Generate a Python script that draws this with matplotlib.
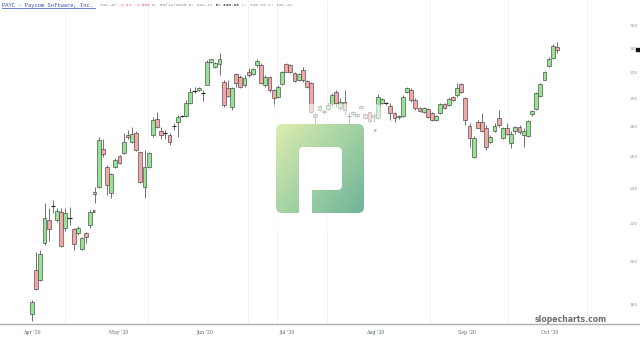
import numpy as np
import matplotlib.pyplot as plt
from matplotlib.patches import FancyBboxPatch, Rectangle
from matplotlib.colors import LinearSegmentedColormap
from matplotlib.ticker import NullLocator

# daily candles, PAYC, Apr 1 - Oct 5 2020
opens = [176, 196, 191.5, 210, 222, 230, 222, 226.5, 218, 223, 217, 215, 206.5, 215, 219.5,
         236.8, 241, 265, 253.5, 237.7, 253.5, 260.5, 262.5, 274.6, 269.7, 276, 263, 241, 253.5, 274.6,
         285.6, 277, 276, 274.6, 280.7, 283.6, 287.4, 287.6, 297.2, 306.3, 307, 304.8, 311, 329, 325,
         327.5, 313.2, 308.5, 294.4, 319.6, 317, 311, 321, 319.6, 326.7, 326.7, 311, 317, 307, 301.7,
         311.7, 327.5, 326.7, 320.4, 314.7, 322.7, 314, 312.4, 289.2, 292, 291.5, 292.7, 296.5, 305.5, 293.5,
         298, 287.6, 289, 289.2, 293.5, 289.2, 290.6, 287, 286.3, 297.2, 297.2, 295, 290, 287.3, 287.6,
         305.5, 307, 299.5, 293.5, 290.6, 292.7, 290, 284.8, 290, 296.5, 295.8, 301.7, 303, 311.7, 301,
         280.7, 260, 283.6, 283.6, 279.3, 269.7, 277, 286.3, 272.3, 279.3, 269, 277, 280, 274.6, 273.7,
         289.2, 292.7, 302.4, 315, 325.8, 332.4, 341.6]
highs = [182, 205, 206, 232, 229, 233.5, 229, 229, 229, 229.5, 218, 219, 213, 215.5, 227.5,
         241, 273, 272, 255, 250, 259, 261, 276, 278, 280, 277, 263, 264.5, 263, 287,
         290.6, 280, 278, 276, 282.6, 288.5, 288.5, 299.5, 308.5, 309.3, 309, 307, 330.6, 332, 329,
         336.6, 314.5, 315, 309.3, 320.4, 318.7, 318.7, 324.4, 324.4, 331.5, 328.3, 318.7, 317.8, 307.7, 311,
         321.8, 328.3, 327.5, 321, 320.4, 325, 314.7, 313, 290, 295.8, 293, 297, 304.8, 307, 301,
         307, 290.6, 291.5, 290, 295.8, 290, 291.3, 290, 304, 301, 298, 297.2, 290.6, 288.5, 303,
         309.3, 308.5, 301, 294, 294.4, 293.5, 290.6, 288.5, 297.2, 297.2, 301.7, 302.4, 312.4, 312.4, 301.7,
         282.6, 274, 284.8, 290, 281.4, 274.6, 282.6, 292, 280, 282.6, 277, 280.7, 281.4, 279.3, 284.8,
         292, 305.5, 312.4, 321.8, 333, 344.1, 345.8]
lows = [173, 186.5, 191, 209, 211, 226, 221, 207.5, 216, 219.5, 206, 214, 206, 210, 218,
        232, 240.5, 260, 236.5, 234.7, 253, 255.5, 262, 272, 269, 263.5, 243.5, 234.7, 253, 273,
        279.5, 272, 272, 268, 278, 273, 287, 287, 296.5, 304.8, 306.5, 298.8, 310.5, 328.5, 324,
        318.7, 294.4, 301.6, 292, 309.3, 308.5, 309.3, 317, 318.7, 325, 311.7, 309.3, 305.5, 294.4, 301,
        311, 321, 320.5, 313, 314, 313.2, 308.5, 290, 277, 291.5, 289, 292, 294.4, 294.4, 292,
        288.5, 281.4, 288, 287, 292.7, 286, 283.6, 283.6, 285.6, 296.5, 296, 284.8, 283.6, 286, 287,
        304.8, 298, 292, 291, 290, 286.3, 284, 284, 289.2, 293, 295, 299, 301.7, 304.8, 281.4,
        266.4, 259.5, 279, 276.3, 264.5, 269, 276.3, 280, 272, 274.6, 265.8, 275, 275, 266.4, 273,
        287.6, 292, 301.7, 314.7, 325, 331.5, 336.6]
closes = [181, 187, 204, 223, 217, 230.5, 227, 208, 226, 223.3, 209.5, 218, 212.5, 213, 226.5,
          238, 271, 262, 242.4, 249, 258, 256, 269.7, 273, 275, 264.5, 244, 253.5, 262.5, 284.8,
          280, 274.6, 275.6, 269.7, 280.9, 287, 287.8, 297.2, 305.5, 306.5, 308.5, 305, 329, 331.5, 328.3,
          331.5, 295.8, 302.4, 308.5, 312.4, 309.3, 316.3, 318.7, 323.5, 330, 312.4, 317, 307, 301, 309.3,
          321, 321, 321, 314, 319.6, 314.7, 309.3, 290.6, 287, 295, 290.6, 295.8, 303, 297.2, 298,
          292, 287.3, 290.6, 287.5, 295, 286.5, 284.3, 288.5, 301.7, 300, 297.4, 290, 286.3, 288, 301.7,
          308.5, 299.5, 293.5, 291.5, 293.5, 287, 284.8, 287.6, 296.5, 293.5, 300.2, 299.5, 308.5, 305.5, 284.8,
          272.3, 272.3, 279.3, 277, 266.4, 273, 280.7, 281.4, 279.3, 275, 275, 280, 276.3, 277, 284.3,
          291.3, 304.8, 311.7, 321, 331.5, 342.4, 339.43]

month_labels = ["Apr '20", "May '20", "Jun '20", "Jul '20", "Aug '20", "Sep '20", "Oct '20"]
month_idx = [0, 20.7, 41.5, 61.2, 82.3, 104.3, 124.3]
price_levels = [180, 200, 220, 240, 260, 280, 300, 320, 340, 360]
grid_idx = [7.9, 27.8, 51.8, 58.8, 70.8, 95.5, 114.2, 133.2]
earnings = [(14.9, 226.6, '#111111'), (82.3, 277, '#111111')]

o = np.array(opens); h = np.array(highs); l = np.array(lows); c = np.array(closes)
x = np.arange(len(o))

fig = plt.figure(figsize=(6.4, 3.38), dpi=100)
ax = fig.add_axes([0, 14 / 338, 1, 324 / 338])
ax.set_yscale('log')
ax.set_ylim(171.5, 384.1)
ax.set_xlim(-7.68, 145.9)
for s in ['top', 'left', 'right']:
    ax.spines[s].set_visible(False)
ax.spines['bottom'].set_color('#b0b0b0')
ax.spines['bottom'].set_linewidth(1.0)
ax.yaxis.set_major_locator(NullLocator())
ax.yaxis.set_minor_locator(NullLocator())
ax.set_xticks(month_idx)
ax.set_xticklabels(month_labels, fontsize=3.4, color='#5c705c', family='DejaVu Serif')
ax.tick_params(axis='x', length=0, pad=4.5)

for g in grid_idx:
    ax.axvline(g, color='#f0f0f0', lw=0.6, zorder=0)

# wicks and bodies
ax.vlines(x, l, h, color='#5a5a5a', lw=0.6, zorder=2)
doji = np.abs(c - o) < 0.6
up = c >= o
colors = np.where(up, '#93e493', '#f3a6a6')
bx = x[~doji]
ax.bar(bx, np.abs(c - o)[~doji], bottom=np.minimum(o, c)[~doji], width=0.92,
       color=colors[~doji], edgecolor='#444444', linewidth=0.45, zorder=3)
ax.hlines((o[doji] + c[doji]) / 2, x[doji] - 0.5, x[doji] + 0.5, color='#222222', lw=0.8, zorder=3)

for ex, ey, ec in earnings:
    ax.text(ex, ey, 'E', fontsize=3, color=ec, ha='center', va='center', fontweight='bold', zorder=4)

# right price scale
yt = ax.get_yaxis_transform()
for p in price_levels:
    ax.text(633.5 / 640, p, str(p), transform=yt, fontsize=3.2, color='#9a9a9a',
            ha='center', va='center')
ax.add_patch(Rectangle((636 / 640, c[-1] / 1.004), 4 / 640, c[-1] * 0.008, transform=yt,
                       color='#111111', clip_on=False, zorder=5))

# overlay in pixel coordinates for header, watermark and logo
ov = fig.add_axes([0, 0, 1, 1], zorder=5)
ov.set_xlim(0, 640)
ov.set_ylim(338, 0)
ov.axis('off')
ov.patch.set_alpha(0)

ov.add_patch(FancyBboxPatch((258, 104), 126, 128, boxstyle='round,pad=0,rounding_size=10',
                            fc='white', ec='none', alpha=0.6))
outer = FancyBboxPatch((276, 124), 88, 89, boxstyle='round,pad=0,rounding_size=6',
                       fc='none', ec='none')
ov.add_patch(outer)
gx, gy = np.meshgrid(np.linspace(0, 1, 120), np.linspace(0, 1, 120))
grad = 0.55 * gx + 0.45 * gy
cmap = LinearSegmentedColormap.from_list('logo', ['#dbeaa9', '#9ccf9c', '#62ad8f'])
im = ov.imshow(grad, extent=(276, 364, 213, 124), cmap=cmap, alpha=0.92, aspect='auto', zorder=6)
im.set_clip_path(outer)
ov.add_patch(FancyBboxPatch((299, 147), 43, 43, boxstyle='round,pad=0,rounding_size=5',
                            fc='white', ec='none', zorder=7))
ov.add_patch(Rectangle((299, 180), 13, 34, fc='white', ec='none', zorder=7))

ov.text(607, 319, 'slopecharts.com', fontsize=5.6, fontweight='bold', color='#6e6e6e',
        ha='right', va='center')

# header
ov.text(2, 5, 'PAYC - Paycom Software, Inc.', fontsize=3.95, family='Liberation Mono',
        color='#3a4db5', ha='left', va='center')
ov.plot([2, 95], [8, 8], color='#3a4db5', lw=0.5)
cw = 0.6 * 3.15 / 72 * 100
pieces = [('339.43 ', '#8a8a8a', 'normal'), ('-3.44 ', '#e05a5a', 'normal'),
          ('-1.00% ', '#e05a5a', 'normal'), ('D: 08/14/2020 O: 344.17 ', '#8a8a8a', 'normal'),
          ('H: ', '#333333', 'bold'), ('349.33 ', '#333333', 'bold'),
          ('L: 338.64 C: 339.43', '#8a8a8a', 'normal')]
pos = 100
for txt, col, wt in pieces:
    ov.text(pos, 5, txt, fontsize=3.15, family='Liberation Mono', color=col,
            fontweight=wt, ha='left', va='center')
    pos += len(txt) * cw

fig.savefig('out.png', dpi=100)
